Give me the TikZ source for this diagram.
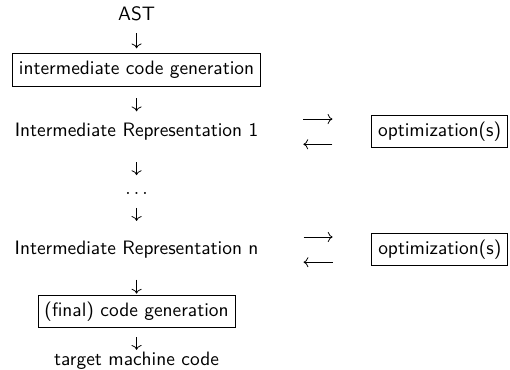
\documentclass[tikz,border=0pt]{standalone}
\usepackage{tikz}
\usetikzlibrary{arrows.meta, positioning}
\tikzset{
  pbox/.style ={rectangle, draw, line width=0.4pt, font=\sffamily, text height=7.5pt, text depth=2.5pt},
  ptxt/.style ={font=\sffamily, inner sep=1pt, text height=7pt, text depth=2pt},
  pdots/.style={font=\sffamily, inner sep=2pt, text height=1pt, text depth=0pt},
  parr/.style ={-{To}, line width=0.4pt},
}
\begin{document}
\begin{tikzpicture}
  \useasboundingbox (-70.4pt,8.3pt) rectangle (192.5pt,-182.4pt);
  \node[ptxt] (ast) {AST};
  \node[pbox, below=13.5pt of ast] (icg) {intermediate code generation};
  \node[ptxt, below=17.6pt of icg] (ir1) {Intermediate Representation 1};
  \node[pdots, below=23.5pt of ir1] (dots) {$\ldots$};
  \node[ptxt, below=20.5pt of dots] (irn) {Intermediate Representation n};
  \node[pbox, below=17.7pt of irn] (fin) {(final) code generation};
  \node[ptxt, below=11.2pt of fin] (tgt) {target machine code};
  \node[pbox, right=57pt of ir1] (opt1) {optimization(s)};
  \node[pbox, right=57pt of irn] (optn) {optimization(s)};
  % down the main column
  \draw[parr, shorten <=3.2pt, shorten >=2.6pt] (ast) -- (icg);
  \draw[parr, shorten <=6.1pt, shorten >=4.8pt] (icg) -- (ir1);
  \draw[parr, shorten <=10pt, shorten >=6.8pt] (ir1) -- (dots);
  \draw[parr, shorten <=4.7pt, shorten >=9.1pt] (dots) -- (irn);
  \draw[parr, shorten <=9.8pt, shorten >=0.7pt] (irn) -- (fin);
  \draw[parr, shorten <=4.8pt, shorten >=0pt] (fin) -- (tgt);
  % to and from the optimizer
  \draw[parr, shorten <=22pt, shorten >=20pt] ([yshift=6.5pt]ir1.east) -- ([yshift=6.5pt]opt1.west);
  \draw[parr, shorten <=20pt, shorten >=22pt] ([yshift=-6.5pt]opt1.west) -- ([yshift=-6.5pt]ir1.east);
  \draw[parr, shorten <=22pt, shorten >=20pt] ([yshift=6.5pt]irn.east) -- ([yshift=6.5pt]optn.west);
  \draw[parr, shorten <=20pt, shorten >=22pt] ([yshift=-6.5pt]optn.west) -- ([yshift=-6.5pt]irn.east);
\end{tikzpicture}
\end{document}
